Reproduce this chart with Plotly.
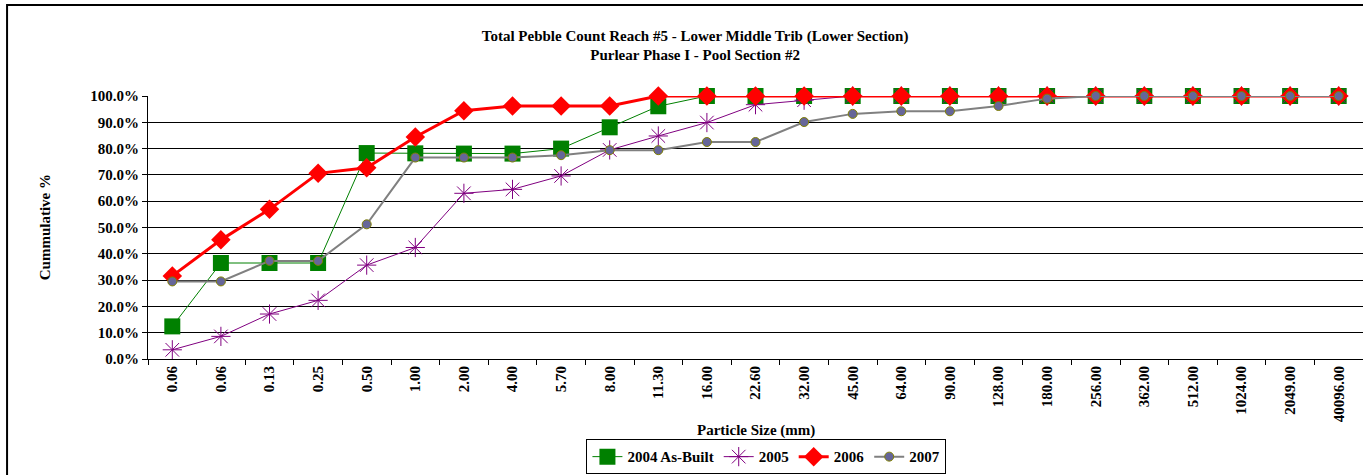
import plotly.graph_objects as go

# particle size classes (mm) shown on the category axis
sizes = ["0.06", "0.06", "0.13", "0.25", "0.50", "1.00", "2.00", "4.00", "5.70",
         "8.00", "11.30", "16.00", "22.60", "32.00", "45.00", "64.00", "90.00",
         "128.00", "180.00", "256.00", "362.00", "512.00", "1024.00", "2049.00",
         "40096.00"]
pos = list(range(len(sizes)))

# cumulative percent finer
y2004 = [12.4, 36.5, 36.5, 36.5, 78.3, 78.2, 78.1, 78.1, 80.0, 88.1, 96.1, 100, 100,
         100, 100, 100, 100, 100, 100, 100, 100, 100, 100, 100, 100]
y2005 = [3.5, 8.6, 17.1, 22.3, 35.7, 42.4, 63.0, 64.5, 69.6, 79.5, 84.8, 89.9, 96.7,
         98.4, 100, 100, 100, 100, 100, 100, 100, 100, 100, 100, 100]
y2006 = [31.6, 45.3, 56.9, 70.6, 72.7, 84.4, 94.4, 96.2, 96.2, 96.2, 100, 100, 100,
         100, 100, 100, 100, 100, 100, 100, 100, 100, 100, 100, 100]
y2007 = [29.5, 29.5, 37.3, 37.3, 51.2, 76.6, 76.6, 76.6, 77.5, 79.4, 79.4, 82.5, 82.5,
         90.1, 93.2, 94.2, 94.2, 96.2, 99.0, 100, 100, 100, 100, 100, 100]

fnt = "Liberation Serif"
fs = 15

fig = go.Figure()
fig.add_trace(go.Scatter(x=pos, y=y2004, name="<b>2004 As-Built</b>", mode="lines+markers",
                         line=dict(color="#008000", width=1),
                         marker=dict(symbol="square", size=16, color="#008000"),
                         cliponaxis=False))
fig.add_trace(go.Scatter(x=pos, y=y2005, name="<b>2005</b>", mode="lines+markers",
                         line=dict(color="#800080", width=1),
                         marker=dict(symbol="asterisk-open", size=16,
                                     line=dict(color="#800080", width=1)),
                         cliponaxis=False))
fig.add_trace(go.Scatter(x=pos, y=y2006, name="<b>2006</b>", mode="lines+markers",
                         line=dict(color="#ff0000", width=3),
                         marker=dict(symbol="diamond", size=15, color="#ff0000"),
                         cliponaxis=False))
fig.add_trace(go.Scatter(x=pos, y=y2007, name="<b>2007</b>", mode="lines+markers",
                         line=dict(color="#808080", width=2),
                         marker=dict(symbol="circle", size=9, color="#666699",
                                     line=dict(color="#808000", width=1)),
                         cliponaxis=False))

fig.update_layout(
    width=1363, height=475,
    margin=dict(l=148, r=0, t=96, b=116, autoexpand=False),
    paper_bgcolor="white", plot_bgcolor="white",
    font=dict(family=fnt, size=fs, color="black"),
    title=dict(text="<b>Total Pebble Count Reach #5 - Lower Middle Trib (Lower Section)"
                    "<br>Purlear Phase I - Pool Section #2</b>",
               x=0.51, xanchor="center", y=0.914, yanchor="middle",
               font=dict(family=fnt, size=fs)),
    showlegend=True,
    legend=dict(orientation="h", x=0.509, xanchor="center",
                yref="container", y=0.075, yanchor="top",
                bordercolor="black", borderwidth=1, font=dict(family=fnt, size=fs),
                itemwidth=30, tracegroupgap=0),
    shapes=[dict(type="rect", xref="paper", yref="paper", x0=-0.116, x1=1.05,
                 y0=-0.5, y1=1.346, line=dict(color="black", width=2))],
    annotations=[
        dict(text="<b>Particle Size (mm)</b>", xref="paper", yref="paper",
             x=0.5, y=-0.27, xanchor="center", yanchor="middle", showarrow=False,
             font=dict(family=fnt, size=fs)),
        dict(text="<b>Cummulative %</b>", xref="paper", yref="paper",
             x=-0.085, y=0.5, xanchor="center", yanchor="middle", showarrow=False,
             textangle=-90, font=dict(family=fnt, size=fs)),
    ],
)

fig.update_xaxes(range=[-0.5, len(sizes) - 0.5], tickmode="array", tickvals=pos,
                 ticktext=["<b>%s</b>" % s for s in sizes], tickangle=-90,
                 ticks="", showgrid=False, zeroline=False, automargin=False,
                 showline=True, linecolor="black", linewidth=1,
                 minor=dict(ticks="outside", tick0=-0.5, dtick=1, ticklen=5,
                            tickcolor="black", showgrid=False),
                 tickfont=dict(family=fnt, size=fs))
fig.update_yaxes(range=[0, 100], tickmode="array", tickvals=list(range(0, 101, 10)),
                 ticktext=["<b>%.1f%%</b>" % v for v in range(0, 101, 10)],
                 ticks="outside", ticklen=5, tickcolor="black", automargin=False,
                 showgrid=True, gridcolor="black", gridwidth=1, zeroline=False,
                 showline=True, linecolor="black", linewidth=1,
                 tickfont=dict(family=fnt, size=fs))

# drop the browser's default page margin so the chart sits at the window corner
fig.write_html("out.html", config={"displayModeBar": False},
               post_script="document.body.style.margin='0';")
